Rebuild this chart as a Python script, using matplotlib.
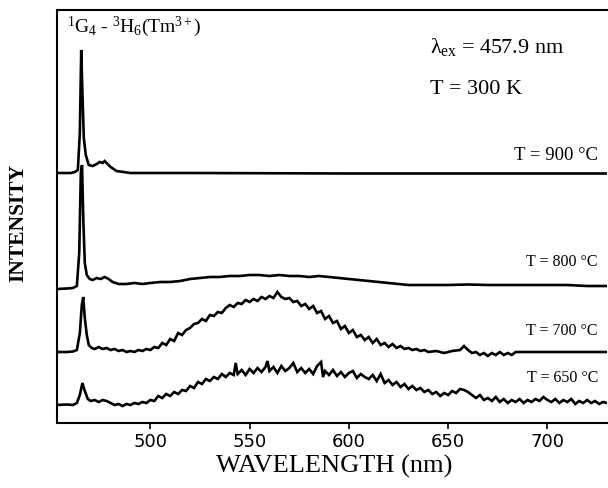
import matplotlib
matplotlib.use("Agg")
import matplotlib.pyplot as plt

plt.rcParams["font.family"] = ["Liberation Serif", "DejaVu Serif"]
plt.rcParams["mathtext.fontset"] = "custom"
plt.rcParams["mathtext.rm"] = "Liberation Serif"
plt.rcParams["mathtext.it"] = "Liberation Serif:italic"

# spectra, intensity in arbitrary units (offset traces)
wl_900 = [453, 460, 462, 463.5, 464.5, 465.2, 465.8, 466.5, 467.5, 469, 471, 473, 474.5, 476,
          477, 478, 480, 483, 490, 520, 600, 730]
i_900 = [250, 250, 251, 253, 290, 373, 330, 285, 268, 258, 257, 259, 261, 260,
         262, 260, 256, 252, 250, 250, 249.5, 249.5]

wl_800 = [453, 458, 461, 463, 464.2, 465, 465.6, 466.3, 467, 468, 469.5, 471, 473, 475, 477, 479,
          481, 484, 488, 492, 496, 500, 505, 510, 515, 520, 525, 530, 535, 540, 545, 550, 555,
          560, 565, 570, 575, 580, 585, 590, 595, 600, 605, 610, 615, 620, 625, 630, 635, 640,
          650, 660, 670, 680, 690, 700, 710, 720, 730]
i_800 = [134, 134.5, 135, 137, 170, 250, 258, 200, 160, 148, 144, 143, 145, 144, 146, 144,
         141, 139, 139, 140, 139, 140, 141, 141, 142, 144, 145, 146, 146, 147, 147, 148, 148,
         147, 148, 147, 147, 146, 147, 146, 145, 144, 143, 142, 141, 140, 139, 138, 138, 138,
         138, 138.5, 138, 138, 138, 138, 138, 137, 137]

wl_700 = [453, 458, 461, 463, 464.5, 465.5, 466.2, 467, 468, 469, 470.5, 472, 474, 476, 478, 480,
          482, 484, 486, 488, 490, 492, 494, 496, 498, 500, 502, 504, 506, 508, 510, 512, 514,
          516, 518, 520, 522, 524, 526, 528, 530, 532, 534, 536, 538, 540, 542, 544, 546, 548,
          550, 552, 554, 556, 558, 560, 562, 564, 566, 568, 570, 572, 574, 576, 578, 580, 582,
          584, 586, 588, 590, 592, 594, 596, 598, 600, 602, 604, 606, 608, 610, 612, 614, 616,
          618, 620, 622, 624, 626, 628, 630, 632, 634, 636, 638, 640, 644, 648, 652, 656, 658,
          660, 662, 664, 666, 668, 670, 672, 674, 676, 678, 680, 682, 684, 688, 730]
i_700 = [71, 71, 71.5, 73, 90, 118, 126, 105, 88, 78, 75, 74, 76, 74, 75, 73,
         74, 72, 73, 71, 72, 71, 73, 72, 74, 73, 76, 75, 80, 78, 84, 82, 90,
         88, 93, 95, 99, 100, 104, 102, 108, 107, 111, 110, 115, 118, 116, 120, 119, 123,
         121, 124, 122, 126, 124, 127, 125, 131, 126, 124, 125, 121, 122, 117, 119, 114, 117,
         110, 112, 104, 107, 100, 102, 94, 97, 90, 93, 86, 88, 83, 86, 80, 84, 78,
         80, 76, 79, 75, 77, 74, 75, 73, 74, 72, 73, 71, 72, 70, 72, 73, 77,
         73, 70, 71, 68, 70, 67, 70, 68, 71, 68, 70, 68, 71, 71, 71]

wl_650 = [453, 458, 461, 463, 464.5, 465.8, 467, 468.5, 470, 472, 474, 476, 478, 480, 482, 484,
          486, 488, 490, 492, 494, 496, 498, 500, 502, 504, 506, 508, 510, 512, 514, 516, 518,
          520, 522, 524, 526, 528, 530, 532, 534, 536, 538, 540, 542, 543, 544, 546, 548, 550,
          552, 554, 556, 558, 559, 560, 562, 564, 566, 568, 570, 572, 574, 576, 578, 580, 582,
          584, 586, 587, 588, 590, 592, 594, 596, 598, 600, 602, 604, 606, 608, 610, 612, 614,
          616, 618, 620, 622, 624, 626, 628, 630, 632, 634, 636, 638, 640, 642, 644, 646, 648,
          650, 652, 654, 656, 658, 660, 662, 664, 666, 668, 670, 672, 674, 676, 678, 680, 682,
          684, 686, 688, 690, 692, 694, 696, 698, 700, 702, 704, 706, 708, 710, 712, 714, 716,
          718, 720, 722, 724, 726, 728, 730]
i_650 = [18, 18.5, 18, 20, 28, 40, 32, 24, 22, 23, 21, 23, 22, 20, 18, 19,
         17, 19, 18, 20, 19, 21, 20, 23, 22, 27, 25, 29, 27, 31, 29, 33, 32,
         37, 35, 41, 39, 44, 42, 46, 44, 49, 46, 50, 48, 60, 49, 53, 48, 54,
         50, 55, 51, 56, 62, 52, 56, 50, 57, 52, 55, 60, 51, 55, 50, 54, 49,
         57, 61, 46, 52, 48, 53, 47, 51, 46, 50, 52, 45, 49, 46, 44, 48, 42,
         49, 40, 43, 38, 41, 36, 39, 34, 37, 33, 35, 31, 33, 29, 31, 27, 30,
         28, 32, 30, 34, 33, 31, 28, 25, 28, 23, 25, 22, 26, 21, 24, 20, 23,
         21, 24, 20, 23, 21, 24, 22, 26, 23, 21, 24, 20, 23, 21, 24, 19, 22,
         20, 23, 20, 22, 19, 21, 20]

anneal_labels = ["T = 900 °C", "T = 800 °C", "T = 700 °C", "T = 650 °C"]
x_ticks = [500, 550, 600, 650, 700]

W, H = 608, 488
fig = plt.figure(figsize=(W / 100, H / 100), dpi=100)
ax = fig.add_axes([57 / W, 65 / H, 550 / W, 413 / H])

for wl, inten in [(wl_900, i_900), (wl_800, i_800), (wl_700, i_700), (wl_650, i_650)]:
    ax.plot(wl, inten, color="black", lw=1.9, solid_joinstyle="miter")

ax.set_xlim(453, 730)
ax.set_ylim(0, 413)
ax.set_yticks([])
ax.set_xticks(x_ticks)
ax.set_xticklabels([str(t) for t in x_ticks])
ax.tick_params(axis="x", direction="out", length=4, width=1.2, pad=3)
plt.setp(ax.get_xticklabels(), family=["DejaVu Sans"], fontsize=13)
ax.spines["right"].set_visible(False)
for s in ["left", "top", "bottom"]:
    ax.spines[s].set_linewidth(1.5)

def ftext(x, y, s, **kw):
    fig.text(x / W, 1 - y / H, s, va="center", **kw)

# axis titles placed by pixel position of the scan
ftext(334, 466, "WAVELENGTH (nm)", fontsize=19, ha="center")
ftext(18, 223, "INTENSITY", fontsize=15.5, fontweight="bold", ha="center", rotation=90)

ftext(67, 27, r"$^1$G$_4$ - $^3$H$_6$(Tm$^{3+}$)", fontsize=14)
ftext(430, 47, r"λ$_{\mathrm{ex}}$ = 457.9 nm", fontsize=16)
ftext(430, 90, "T = 300 K", fontsize=16)

label_y = [155, 262, 331, 378]
label_size = [13.5, 11.5, 11.5, 11.5]
for lab, y, fs in zip(anneal_labels, label_y, label_size):
    ftext(598, y, lab, fontsize=fs, ha="right")

fig.savefig("out.png", dpi=100)
